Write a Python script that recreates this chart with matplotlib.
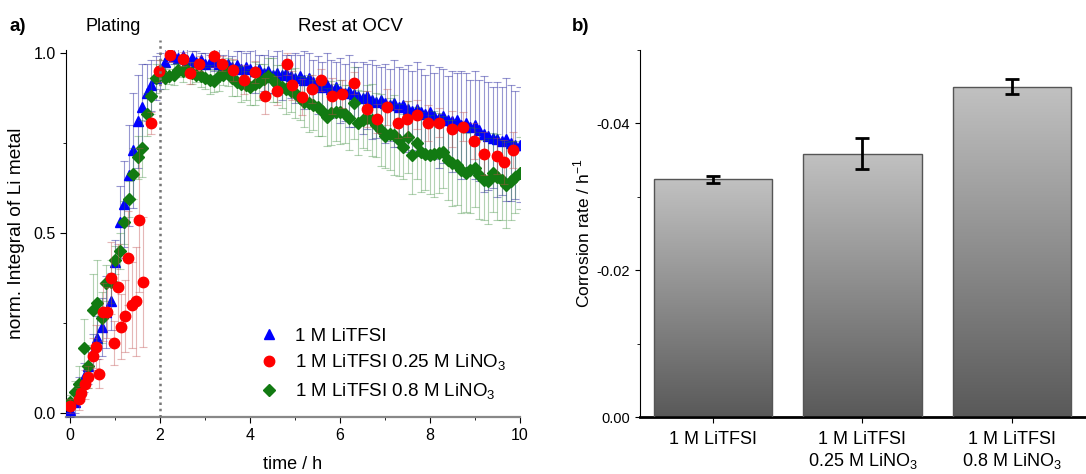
import numpy as np
import matplotlib
matplotlib.use("Agg")
import matplotlib.pyplot as plt
from matplotlib.colors import LinearSegmentedColormap
from matplotlib.lines import Line2D
from matplotlib.ticker import MultipleLocator

plt.rcParams['font.family'] = ['Liberation Sans', 'DejaVu Sans']
plt.rcParams['mathtext.fontset'] = 'custom'
plt.rcParams['mathtext.rm'] = 'Liberation Sans'

# ---- data, panel a ----
t_grid = np.round(np.arange(0, 10.01, 0.1), 2)   # sampling grid of blue/green runs

blue_v = [0.01, 0.03, 0.07, 0.10, 0.13, 0.17, 0.21, 0.24, 0.28, 0.31,
          0.42, 0.53, 0.58, 0.66, 0.73, 0.81, 0.85, 0.89, 0.91, 0.93,
          0.95, 0.975, 0.995, 0.99, 0.985, 0.99, 0.98, 0.985, 0.975, 0.98,
          0.97, 0.975, 0.98, 0.97, 0.965, 0.97, 0.96, 0.965, 0.955, 0.96,
          0.955, 0.95, 0.955, 0.945, 0.95, 0.94, 0.945, 0.94, 0.945, 0.935,
          0.93, 0.935, 0.925, 0.93, 0.92, 0.91, 0.905, 0.91, 0.90, 0.905,
          0.895, 0.89, 0.895, 0.885, 0.88, 0.875, 0.88, 0.87, 0.865, 0.87,
          0.86, 0.855, 0.86, 0.85, 0.855, 0.845, 0.84, 0.845, 0.835, 0.83,
          0.835, 0.825, 0.82, 0.825, 0.815, 0.81, 0.815, 0.80, 0.805, 0.795,
          0.80, 0.785, 0.775, 0.77, 0.765, 0.76, 0.755, 0.76, 0.75, 0.745,
          0.745]
blue_err = [0.02, 0.03, 0.03, 0.04, 0.05, 0.05, 0.06, 0.08, 0.10, 0.08,
            0.06, 0.10, 0.12, 0.14, 0.16, 0.13, 0.12, 0.08, 0.07, 0.06,
            0.05, 0.04, 0.02, 0.02, 0.03, 0.02, 0.03, 0.02, 0.03, 0.02,
            0.03, 0.02, 0.03, 0.04, 0.03, 0.04, 0.03, 0.04, 0.05, 0.04,
            0.05, 0.06, 0.04, 0.05, 0.06, 0.05, 0.06, 0.07, 0.05, 0.06,
            0.07, 0.06, 0.08, 0.07, 0.06, 0.08, 0.07, 0.09, 0.08, 0.07,
            0.09, 0.08, 0.10, 0.09, 0.08, 0.10, 0.09, 0.11, 0.10, 0.09,
            0.11, 0.10, 0.12, 0.11, 0.10, 0.12, 0.11, 0.13, 0.12, 0.11,
            0.13, 0.12, 0.14, 0.13, 0.12, 0.14, 0.13, 0.15, 0.14, 0.13,
            0.15, 0.14, 0.16, 0.15, 0.14, 0.16, 0.15, 0.17, 0.16, 0.15,
            0.16]

green_v = [0.03, 0.06, 0.08, 0.18, 0.13, 0.285, 0.305, 0.265, 0.36, 0.365,
           0.425, 0.45, 0.53, 0.595, 0.665, 0.71, 0.735, 0.83, 0.88, 0.93,
           0.95, 0.93, 0.935, 0.94, 0.953, 0.95, 0.953, 0.945, 0.94, 0.935,
           0.93, 0.925, 0.922, 0.935, 0.94, 0.947, 0.93, 0.92, 0.914, 0.91,
           0.906, 0.915, 0.92, 0.928, 0.935, 0.925, 0.915, 0.906, 0.90, 0.895,
           0.889, 0.875, 0.864, 0.86, 0.856, 0.85, 0.84, 0.822, 0.833, 0.835,
           0.836, 0.83, 0.82, 0.86, 0.806, 0.815, 0.82, 0.814, 0.80, 0.786,
           0.77, 0.775, 0.772, 0.758, 0.739, 0.767, 0.717, 0.75, 0.725, 0.72,
           0.717, 0.72, 0.722, 0.725, 0.703, 0.695, 0.689, 0.675, 0.667, 0.675,
           0.681, 0.66, 0.647, 0.644, 0.667, 0.655, 0.647, 0.633, 0.645, 0.656,
           0.667]
green_err = [0.02, 0.03, 0.05, 0.08, 0.06, 0.10, 0.12, 0.07, 0.05, 0.06,
             0.04, 0.05, 0.06, 0.05, 0.07, 0.06, 0.08, 0.06, 0.05, 0.04,
             0.03, 0.03, 0.02, 0.03, 0.02, 0.03, 0.02, 0.03, 0.02, 0.03,
             0.03, 0.04, 0.03, 0.04, 0.03, 0.04, 0.05, 0.04, 0.05, 0.04,
             0.05, 0.06, 0.05, 0.04, 0.05, 0.06, 0.05, 0.06, 0.07, 0.06,
             0.07, 0.06, 0.07, 0.08, 0.07, 0.08, 0.07, 0.08, 0.09, 0.08,
             0.09, 0.08, 0.09, 0.10, 0.09, 0.08, 0.09, 0.10, 0.09, 0.10,
             0.09, 0.10, 0.11, 0.10, 0.09, 0.10, 0.11, 0.10, 0.11, 0.10,
             0.11, 0.12, 0.11, 0.10, 0.11, 0.12, 0.11, 0.12, 0.11, 0.12,
             0.11, 0.12, 0.11, 0.12, 0.11, 0.12, 0.11, 0.12, 0.11, 0.10,
             0.10]

red_t = [0.0, 0.2, 0.24, 0.33, 0.4, 0.51, 0.58, 0.64, 0.73, 0.82,
         0.91, 0.98, 1.07, 1.13, 1.22, 1.29, 1.38, 1.47, 1.53, 1.62,
         1.8, 1.98, 2.22, 2.51, 2.67, 2.87, 3.2, 3.38, 3.62, 3.87,
         4.11, 4.33, 4.6, 4.82, 4.93, 5.16, 5.38, 5.58, 5.82, 6.04,
         6.31, 6.6, 6.82, 7.04, 7.29, 7.49, 7.71, 7.96, 8.2, 8.49,
         8.73, 8.98, 9.2, 9.49, 9.64, 9.84]
red_v = [0.02, 0.04, 0.055, 0.08, 0.10, 0.16, 0.185, 0.11, 0.28, 0.28,
         0.375, 0.195, 0.35, 0.24, 0.27, 0.43, 0.30, 0.31, 0.535, 0.365,
         0.805, 0.95, 0.995, 0.983, 0.944, 0.97, 0.99, 0.97, 0.953, 0.925,
         0.947, 0.88, 0.895, 0.97, 0.91, 0.878, 0.90, 0.925, 0.88, 0.886,
         0.917, 0.844, 0.817, 0.85, 0.805, 0.817, 0.828, 0.805, 0.806, 0.79,
         0.795, 0.756, 0.72, 0.714, 0.697, 0.73]
red_err = [0.02, 0.03, 0.02, 0.04, 0.03, 0.05, 0.06, 0.04, 0.08, 0.07,
           0.10, 0.06, 0.12, 0.09, 0.10, 0.13, 0.12, 0.15, 0.20, 0.18,
           0.03, 0.03, 0.02, 0.02, 0.03, 0.02, 0.03, 0.02, 0.03, 0.04,
           0.03, 0.05, 0.04, 0.03, 0.04, 0.05, 0.04, 0.03, 0.05, 0.04,
           0.03, 0.05, 0.04, 0.05, 0.04, 0.05, 0.04, 0.05, 0.04, 0.05,
           0.04, 0.05, 0.06, 0.05, 0.06, 0.05]

labels_a = ['1 M LiTFSI', '1 M LiTFSI 0.25 M LiNO$_\\mathregular{3}$',
            '1 M LiTFSI 0.8 M LiNO$_\\mathregular{3}$']

# ---- data, panel b ----
categories = ['1 M LiTFSI', '1 M LiTFSI\n0.25 M LiNO$_\\mathregular{3}$',
              '1 M LiTFSI\n0.8 M LiNO$_\\mathregular{3}$']
rates = [-0.0324, -0.0359, -0.0450]
rate_err = [0.0005, 0.0021, 0.0010]

fig = plt.figure(figsize=(10.86, 4.74), dpi=100)
ax = fig.add_axes([0.0608, 0.120, 0.418, 0.7745])
ax2 = fig.add_axes([0.589, 0.120, 0.42, 0.7745])

ekw = dict(capsize=3, elinewidth=0.8, capthick=0.8, linestyle='none')
ax.errorbar(t_grid, blue_v, yerr=blue_err, marker='^', ms=7.5, color='#0000ff',
            ecolor=(0.1, 0.1, 0.6, 0.45), zorder=3, **ekw)
ax.errorbar(t_grid, green_v, yerr=green_err, marker='D', ms=6, color='#127a12',
            ecolor=(0.15, 0.5, 0.15, 0.35), zorder=4, **ekw)
ax.errorbar(red_t, red_v, yerr=red_err, marker='o', ms=7.5, color='#ff0000',
            ecolor=(0.75, 0.3, 0.3, 0.4), zorder=5, **ekw)

ax.axvline(2, ymin=0, ymax=1.027, color='#777777', ls=(0, (1, 1.5)), lw=1.8,
           clip_on=False, zorder=6)

ax.set_xlim(-0.09, 10)
ax.set_ylim(-0.011, 1.008)
ax.xaxis.set_major_locator(MultipleLocator(2))
ax.xaxis.set_minor_locator(MultipleLocator(1))
ax.yaxis.set_major_locator(MultipleLocator(0.5))
ax.yaxis.set_minor_locator(MultipleLocator(0.25))
ax.spines['top'].set_visible(False)
ax.spines['right'].set_visible(False)
ax.spines['bottom'].set_color('#888888')
ax.spines['bottom'].set_linewidth(1.6)
ax.tick_params(which='both', direction='out', labelsize=11.5)
ax.tick_params(which='major', length=4)
ax.tick_params(which='minor', length=2.5)
ax.set_xlabel('time / h', fontsize=13, labelpad=10)
ax.set_ylabel('norm. Integral of Li metal', fontsize=13.8, labelpad=6)

handles = [Line2D([], [], ls='none', marker='^', ms=7.5, color='#0000ff'),
           Line2D([], [], ls='none', marker='o', ms=7.5, color='#ff0000'),
           Line2D([], [], ls='none', marker='D', ms=6, color='#127a12')]
ax.legend(handles, labels_a, loc='lower left', bbox_to_anchor=(0.39, -0.005),
          frameon=False, fontsize=13.5, handletextpad=0.85, labelspacing=0.45,
          handlelength=1.0)

fig.text(0.009, 0.935, 'a)', fontsize=13.5, fontweight='bold')
fig.text(0.079, 0.935, 'Plating', fontsize=13)
fig.text(0.274, 0.935, 'Rest at OCV', fontsize=13.5)
fig.text(0.527, 0.935, 'b)', fontsize=13.5, fontweight='bold')

# ---- panel b: gradient bars ----
x = np.arange(len(categories))
width = 0.79
cmap = LinearSegmentedColormap.from_list('g', ['#595959', '#c1c1c1'])
grad = np.linspace(0, 1, 256).reshape(-1, 1)
bars = ax2.bar(x, rates, width=width, facecolor='none', edgecolor='#555555', lw=1.0, zorder=3)
for b in bars:
    x0 = b.get_x()
    im = ax2.imshow(grad, cmap=cmap, origin='lower', aspect='auto',
                    extent=(x0, x0 + b.get_width(), 0, b.get_height()), zorder=2)
    im.set_clip_path(b)
ax2.errorbar(x, rates, yerr=rate_err, fmt='none', ecolor='black', elinewidth=2,
             capsize=5, capthick=2, zorder=4)

ax2.set_xlim(-0.49, 2.56)
ax2.set_ylim(0, -0.05)
ax2.set_yticks([0, -0.02, -0.04])
ax2.set_yticklabels(['0.00', '-0.02', '-0.04'])
ax2.yaxis.set_minor_locator(MultipleLocator(0.01))
ax2.set_xticks(x)
ax2.set_xticklabels(categories, va='top')
ax2.spines['top'].set_visible(False)
ax2.spines['right'].set_visible(False)
ax2.spines['bottom'].set_linewidth(2)
ax2.tick_params(which='both', direction='out', labelsize=10.5)
ax2.tick_params(axis='x', labelsize=13, length=4, pad=6)
ax2.tick_params(which='minor', length=2.5)
ax2.set_ylabel('Corrosion rate / h$^{\\mathregular{-1}}$', fontsize=12.5, labelpad=3)

fig.savefig('out.png', dpi=100)
